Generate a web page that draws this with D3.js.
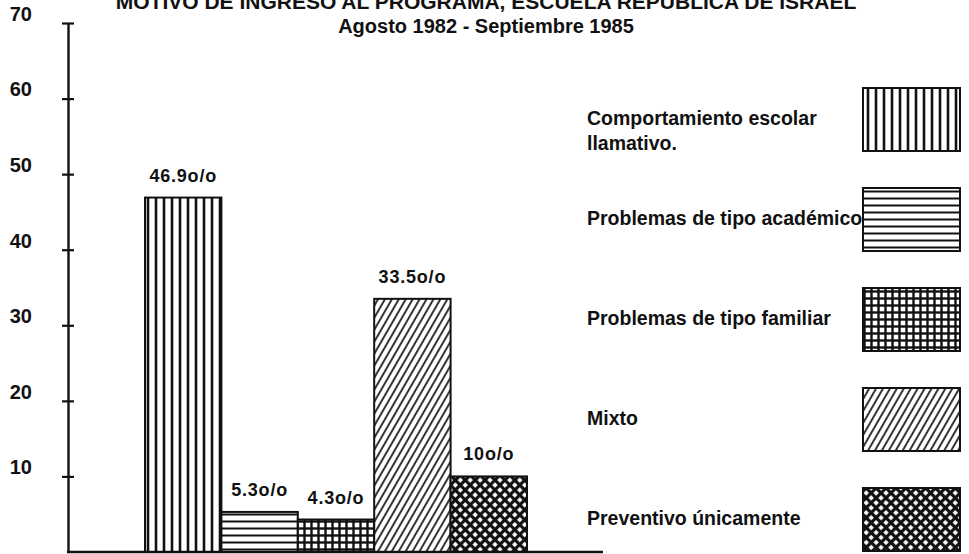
<!DOCTYPE html>
<html>
<head>
<meta charset="utf-8">
<script src="https://cdn.jsdelivr.net/npm/d3@7"></script>
<style>
  body { margin: 0; background: #fff; }
  svg { display: block; font-family: "Liberation Sans", Arial, sans-serif; }
</style>
</head>
<body>
<svg width="969" height="554"></svg>
<script>
// data
var categories = ["Comportamiento escolar\nllamativo.", "Problemas de tipo académico",
                  "Problemas de tipo familiar", "Mixto", "Preventivo únicamente"];
var values = [46.9, 5.3, 4.3, 33.5, 10];
var yTicks = [10, 20, 30, 40, 50, 60, 70];
var patternIds = ["vert", "horiz", "grid", "diag", "cross"];
var titleLines = ["MOTIVO DE INGRESO AL PROGRAMA, ESCUELA REPUBLICA DE ISRAEL",
                  "Agosto 1982 - Septiembre 1985"];

var svg = d3.select("svg"),
    ink = "#111";

// schalen
var x = d3.scaleBand().domain(categories).range([145, 527]).padding(0),
    y = d3.scaleLinear().domain([0, 70]).range([552, 23]);

// patronen voor de staven
var defs = svg.append("defs");

function pattern(id, size, rotate) {
  var p = defs.append("pattern")
      .attr("id", id)
      .attr("patternUnits", "userSpaceOnUse")
      .attr("width", size)
      .attr("height", size);
  if (rotate) p.attr("patternTransform", "rotate(" + rotate + ")");
  p.append("rect").attr("width", size).attr("height", size).attr("fill", "#fff");
  return p;
}

pattern("vert", 8).append("line")
    .attr("x1", 4).attr("x2", 4).attr("y1", 0).attr("y2", 8)
    .attr("stroke", ink).attr("stroke-width", 2.6);

pattern("horiz", 7).append("line")
    .attr("x1", 0).attr("x2", 7).attr("y1", 3.5).attr("y2", 3.5)
    .attr("stroke", ink).attr("stroke-width", 2);

var grid = pattern("grid", 7);
grid.append("line").attr("x1", 3.5).attr("x2", 3.5).attr("y1", 0).attr("y2", 7)
    .attr("stroke", ink).attr("stroke-width", 2.4);
grid.append("line").attr("x1", 0).attr("x2", 7).attr("y1", 3.5).attr("y2", 3.5)
    .attr("stroke", ink).attr("stroke-width", 2.4);

pattern("diag", 6, 30).append("line")
    .attr("x1", 3).attr("x2", 3).attr("y1", 0).attr("y2", 6)
    .attr("stroke", ink).attr("stroke-width", 1.7);

var cross = pattern("cross", 7, 45);
cross.append("line").attr("x1", 3.5).attr("x2", 3.5).attr("y1", 0).attr("y2", 7)
    .attr("stroke", ink).attr("stroke-width", 3.2);
cross.append("line").attr("x1", 0).attr("x2", 7).attr("y1", 3.5).attr("y2", 3.5)
    .attr("stroke", ink).attr("stroke-width", 3.2);

// titel (bovenste regel valt net als in het origineel half buiten beeld)
svg.selectAll(".title")
  .data(titleLines)
  .enter().append("text")
    .attr("class", "title")
    .attr("x", 486)
    .attr("y", function(d, i) { return 9 + i * 24; })
    .attr("text-anchor", "middle")
    .style("font-size", function(d, i) { return i == 0 ? "21px" : "20px"; })
    .style("font-weight", "bold")
    .attr("fill", ink)
    .text(function(d) { return d; });

// staven
svg.selectAll(".bar")
  .data(values)
  .enter().append("rect")
    .attr("class", "bar")
    .attr("x", function(d, i) { return x(categories[i]); })
    .attr("y", function(d) { return y(d); })
    .attr("width", x.bandwidth())
    .attr("height", function(d) { return y(0) - y(d); })
    .attr("fill", function(d, i) { return "url(#" + patternIds[i] + ")"; })
    .attr("stroke", ink)
    .attr("stroke-width", 2);

// waarden boven de staven
svg.selectAll(".label")
  .data(values)
  .enter().append("text")
    .attr("class", "label")
    .attr("x", function(d, i) { return x(categories[i]) + x.bandwidth() / 2; })
    .attr("y", function(d) { return y(d) - 16; })
    .attr("text-anchor", "middle")
    .style("font-size", "18px")
    .style("font-weight", "bold")
    .style("letter-spacing", "0.8px")
    .attr("fill", ink)
    .text(function(d) { return d + "o/o"; });

// y-as
var yAxis = svg.append("g")
    .attr("transform", "translate(68,0)")
    .call(d3.axisLeft(y).tickValues(yTicks).tickSizeInner(6).tickSizeOuter(0).tickPadding(30));

yAxis.select(".domain").attr("stroke", ink).attr("stroke-width", 2.4);
yAxis.selectAll(".tick line").attr("x1", -6).attr("x2", 6)
    .attr("stroke", ink).attr("stroke-width", 2.2);
yAxis.selectAll(".tick text")
    .attr("y", -9)
    .attr("fill", ink)
    .style("font-size", "20px")
    .style("font-weight", "bold")
    .style("font-family", "Liberation Sans, Arial, sans-serif");

// x-as (basislijn)
svg.append("line")
    .attr("x1", 67).attr("x2", 603)
    .attr("y1", y(0)).attr("y2", y(0))
    .attr("stroke", ink).attr("stroke-width", 2.6);

// legenda
var legend = svg.selectAll(".legend")
  .data(categories)
  .enter().append("g")
    .attr("class", "legend")
    .attr("transform", function(d, i) { return "translate(0," + (88 + i * 100) + ")"; });

legend.append("rect")
    .attr("x", 863)
    .attr("width", 97)
    .attr("height", 63)
    .attr("fill", function(d, i) { return "url(#" + patternIds[i] + ")"; })
    .attr("stroke", ink)
    .attr("stroke-width", 2);

legend.append("text")
    .attr("x", 587)
    .attr("y", 40)
    .style("font-size", "19.5px")
    .style("font-weight", "bold")
    .attr("fill", ink)
  .selectAll("tspan")
  .data(function(d) { return d.split("\n"); })
  .enter().append("tspan")
    .attr("x", 587)
    .attr("dy", function(d, i) { return i == 0 ? -3 : 25; })
    .text(function(d) { return d; });
</script>
</body>
</html>
